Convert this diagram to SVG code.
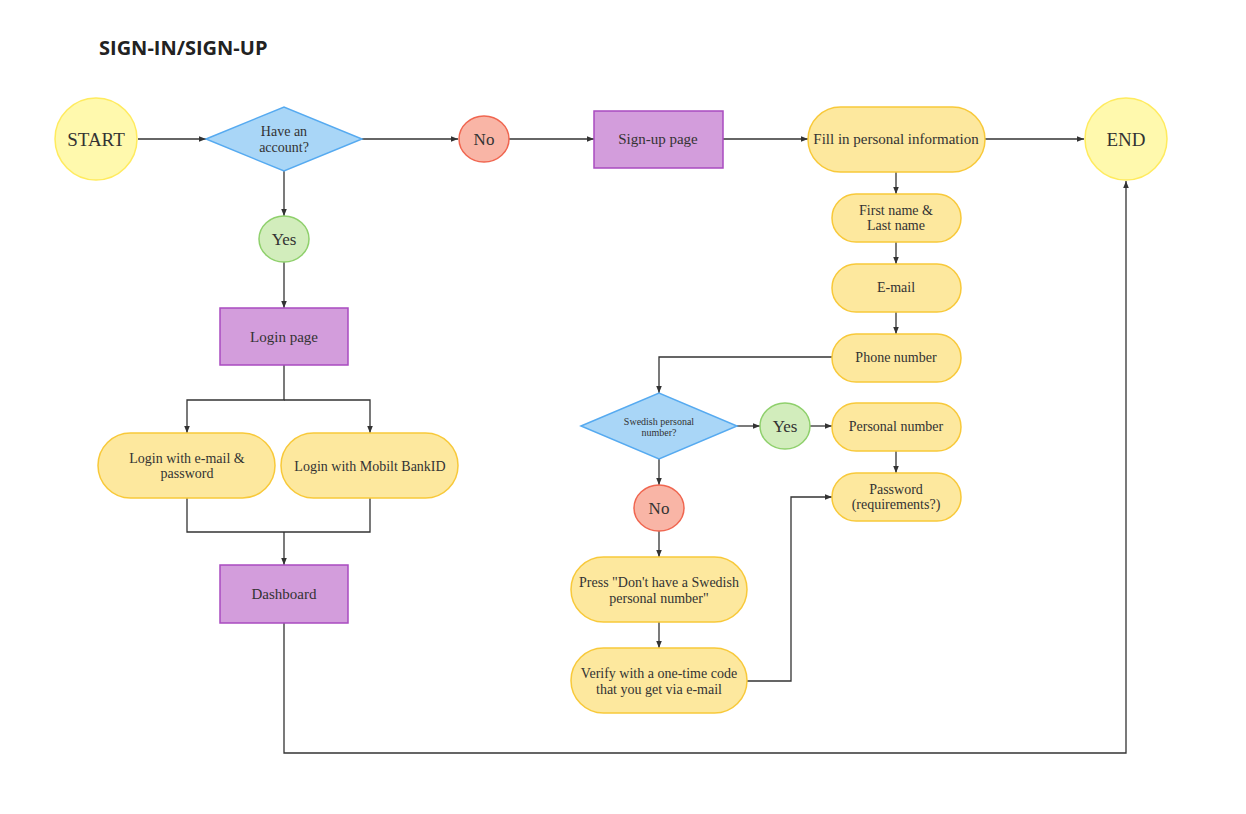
<svg xmlns="http://www.w3.org/2000/svg" width="1246" height="814" viewBox="0 0 1246 814">
<defs>
<marker id="ah" viewBox="0 0 10 10" refX="10" refY="5" markerWidth="7" markerHeight="7" markerUnits="userSpaceOnUse" orient="auto">
<path d="M0,1 L10,5 L0,9 z" fill="#333"/>
</marker>
<style>
.t{font-family:"Liberation Serif","DejaVu Serif",serif;fill:#333;text-anchor:middle;dominant-baseline:central}
.c{fill:none;stroke:#333;stroke-width:1.3}
.term{fill:#fff9ad;stroke:#ffeb5e;stroke-width:1.5}
.dec{fill:#a9d6f7;stroke:#56aaf0;stroke-width:1.5}
.no{fill:#f9b5a6;stroke:#f06650;stroke-width:1.5}
.yes{fill:#d2edbc;stroke:#8fd06c;stroke-width:1.5}
.page{fill:#d39ddc;stroke:#a94bc0;stroke-width:1.5}
.step{fill:#fde89e;stroke:#f8c93a;stroke-width:1.5}
</style>
</defs>
<rect width="1246" height="814" fill="#fff"/>
<text x="99" y="55" font-family="'Open Sans','Noto Sans',sans-serif" font-weight="bold" font-size="20" fill="#222">SIGN-IN/SIGN-UP</text>

<g id="connectors">
<path class="c" d="M138,139 H206" marker-end="url(#ah)"/>
<path class="c" d="M362,139 H458" marker-end="url(#ah)"/>
<path class="c" d="M509,139 H594" marker-end="url(#ah)"/>
<path class="c" d="M723,139 H808" marker-end="url(#ah)"/>
<path class="c" d="M985,139 H1084" marker-end="url(#ah)"/>
<path class="c" d="M896,172 V194" marker-end="url(#ah)"/>
<path class="c" d="M896,242 V264" marker-end="url(#ah)"/>
<path class="c" d="M896,312 V334" marker-end="url(#ah)"/>
<path class="c" d="M832,357 H659 V393" marker-end="url(#ah)"/>
<path class="c" d="M737,426 H760" marker-end="url(#ah)"/>
<path class="c" d="M810,426 H832" marker-end="url(#ah)"/>
<path class="c" d="M896,451 V473" marker-end="url(#ah)"/>
<path class="c" d="M659,459 V485" marker-end="url(#ah)"/>
<path class="c" d="M659,531 V557" marker-end="url(#ah)"/>
<path class="c" d="M659,622 V648" marker-end="url(#ah)"/>
<path class="c" d="M747,681 H791 V497 H832" marker-end="url(#ah)"/>
<path class="c" d="M284,171 V216" marker-end="url(#ah)"/>
<path class="c" d="M284,262 V308" marker-end="url(#ah)"/>
<path class="c" d="M284,365 V400 H187 V433" marker-end="url(#ah)"/>
<path class="c" d="M284,400 H370 V433" marker-end="url(#ah)"/>
<path class="c" d="M187,498 V532 H370 V498"/>
<path class="c" d="M284,532 V565" marker-end="url(#ah)"/>
<path class="c" d="M284,623 V753 H1126 V181" marker-end="url(#ah)"/>
</g>

<g id="start"><circle class="term" cx="96" cy="139" r="41"/><text class="t" x="96" y="139" font-size="19">START</text></g>
<g id="have-account"><polygon class="dec" points="206,139 284,107 362,139 284,171"/><text class="t" x="284" y="131" font-size="14">Have an</text><text class="t" x="284" y="147" font-size="14">account?</text></g>
<g id="no1"><ellipse class="no" cx="484" cy="139" rx="25" ry="23"/><text class="t" x="484" y="139" font-size="17">No</text></g>
<g id="signup-page"><rect class="page" x="594" y="111" width="129" height="57"/><text class="t" x="658" y="139" font-size="15">Sign-up page</text></g>
<g id="fill-info"><rect class="step" x="808" y="107" width="177" height="65" rx="32.5"/><text class="t" x="896" y="139" font-size="15">Fill in personal information</text></g>
<g id="end"><circle class="term" cx="1126" cy="139" r="41"/><text class="t" x="1126" y="139" font-size="19">END</text></g>
<g id="first-name"><rect class="step" x="832" y="194" width="129" height="48" rx="24"/><text class="t" x="896" y="210" font-size="14">First name &amp;</text><text class="t" x="896" y="225" font-size="14">Last name</text></g>
<g id="email"><rect class="step" x="832" y="264" width="129" height="48" rx="24"/><text class="t" x="896" y="287" font-size="14">E-mail</text></g>
<g id="phone"><rect class="step" x="832" y="334" width="129" height="48" rx="24"/><text class="t" x="896" y="357" font-size="14">Phone number</text></g>
<g id="swedish"><polygon class="dec" points="581,426 659,393 737,426 659,459"/><text class="t" x="659" y="421" font-size="10">Swedish personal</text><text class="t" x="659" y="432" font-size="10">number?</text></g>
<g id="yes2"><ellipse class="yes" cx="785" cy="426" rx="25" ry="23"/><text class="t" x="785" y="426" font-size="17">Yes</text></g>
<g id="personal-number"><rect class="step" x="832" y="403" width="129" height="48" rx="24"/><text class="t" x="896" y="426" font-size="14">Personal number</text></g>
<g id="password"><rect class="step" x="832" y="473" width="129" height="48" rx="24"/><text class="t" x="896" y="489" font-size="14">Password</text><text class="t" x="896" y="504" font-size="14">(requirements?)</text></g>
<g id="no2"><ellipse class="no" cx="659" cy="508" rx="25" ry="23"/><text class="t" x="659" y="508" font-size="17">No</text></g>
<g id="press"><rect class="step" x="571" y="557" width="176" height="65" rx="32.5"/><text class="t" x="659" y="582" font-size="14">Press "Don't have a Swedish</text><text class="t" x="659" y="598" font-size="14">personal number"</text></g>
<g id="verify"><rect class="step" x="571" y="648" width="176" height="65" rx="32.5"/><text class="t" x="659" y="673" font-size="14">Verify with a one-time code</text><text class="t" x="659" y="689" font-size="14">that you get via e-mail</text></g>
<g id="yes1"><ellipse class="yes" cx="284" cy="239" rx="25" ry="23"/><text class="t" x="284" y="239" font-size="17">Yes</text></g>
<g id="login-page"><rect class="page" x="220" y="308" width="128" height="57"/><text class="t" x="284" y="337" font-size="15">Login page</text></g>
<g id="login-email"><rect class="step" x="98" y="433" width="177" height="65" rx="32.5"/><text class="t" x="187" y="458" font-size="14">Login with e-mail &amp;</text><text class="t" x="187" y="473" font-size="14">password</text></g>
<g id="login-bankid"><rect class="step" x="281" y="433" width="177" height="65" rx="32.5"/><text class="t" x="370" y="466" font-size="14">Login with Mobilt BankID</text></g>
<g id="dashboard"><rect class="page" x="220" y="565" width="128" height="58"/><text class="t" x="284" y="594" font-size="15">Dashboard</text></g>
</svg>
